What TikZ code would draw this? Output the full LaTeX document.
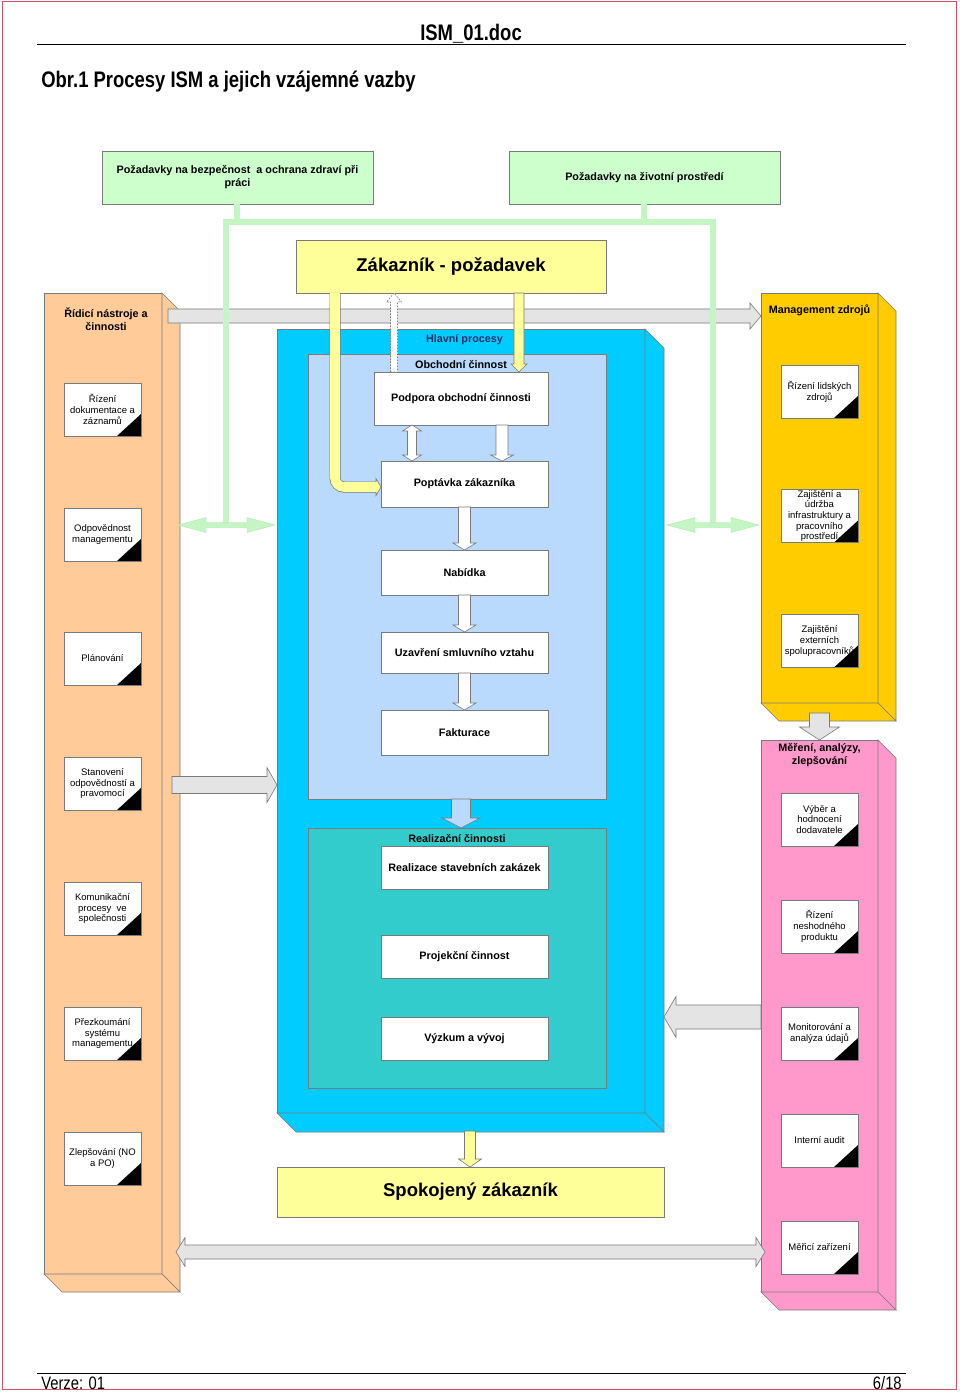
\documentclass[tikz,border=0pt]{standalone}
\usepackage{fontspec}
\setmainfont{Liberation Sans}
\newfontfamily\narrowfont[FakeStretch=0.82]{Liberation Sans}
\usetikzlibrary{calc}

\definecolor{orangec}{HTML}{FFCC99}
\definecolor{goldc}{HTML}{FFCC00}
\definecolor{pinkc}{HTML}{FF99CC}
\definecolor{bluec}{HTML}{00CCFF}
\definecolor{lbluec}{HTML}{B9DAFC}
\definecolor{tealc}{HTML}{33CCCC}
\definecolor{paleyc}{HTML}{FFFF99}
\definecolor{lgreenc}{HTML}{CCFFCC}
\definecolor{glinec}{HTML}{C4F6C4}
\definecolor{gedgec}{HTML}{A8E6A8}
\definecolor{edgec}{HTML}{7A7A7A}
\definecolor{arrgrayc}{HTML}{E4E4E4}
\definecolor{navyc}{HTML}{1C2E66}
\definecolor{borderredc}{HTML}{D85068}

% block arrows: [style]{start}{tip}{shaft half}{head half}{head length}
\newcommand{\blkdown}[6][]{%
  \path[#1] let \p1=(#2), \p2=(#3) in
    (\x1-#4,\y1) -- (\x1-#4,\y2+#6) -- (\x1-#5,\y2+#6) -- (\x1,\y2)
    -- (\x1+#5,\y2+#6) -- (\x1+#4,\y2+#6) -- (\x1+#4,\y1) -- cycle;}
\newcommand{\blkup}[6][]{%
  \path[#1] let \p1=(#2), \p2=(#3) in
    (\x1-#4,\y1) -- (\x1-#4,\y2-#6) -- (\x1-#5,\y2-#6) -- (\x1,\y2)
    -- (\x1+#5,\y2-#6) -- (\x1+#4,\y2-#6) -- (\x1+#4,\y1) -- cycle;}
\newcommand{\blkright}[6][]{%
  \path[#1] let \p1=(#2), \p2=(#3) in
    (\x1,\y1-#4) -- (\x2-#6,\y1-#4) -- (\x2-#6,\y1-#5) -- (\x2,\y1)
    -- (\x2-#6,\y1+#5) -- (\x2-#6,\y1+#4) -- (\x1,\y1+#4) -- cycle;}
\newcommand{\blkleft}[6][]{%
  \path[#1] let \p1=(#2), \p2=(#3) in
    (\x1,\y1-#4) -- (\x2+#6,\y1-#4) -- (\x2+#6,\y1-#5) -- (\x2,\y1)
    -- (\x2+#6,\y1+#5) -- (\x2+#6,\y1+#4) -- (\x1,\y1+#4) -- cycle;}
\newcommand{\blkdblH}[6][]{%
  \path[#1] let \p1=(#2), \p2=(#3) in
    (\x1,\y1) -- (\x1+#6,\y1+#5) -- (\x1+#6,\y1+#4) -- (\x2-#6,\y1+#4)
    -- (\x2-#6,\y1+#5) -- (\x2,\y1) -- (\x2-#6,\y1-#5) -- (\x2-#6,\y1-#4)
    -- (\x1+#6,\y1-#4) -- (\x1+#6,\y1-#5) -- cycle;}
\newcommand{\blkdblV}[6][]{%
  \path[#1] let \p1=(#2), \p2=(#3) in
    (\x1,\y1) -- (\x1+#5,\y1-#6) -- (\x1+#4,\y1-#6) -- (\x1+#4,\y2+#6)
    -- (\x1+#5,\y2+#6) -- (\x1,\y2) -- (\x1-#5,\y2+#6) -- (\x1-#4,\y2+#6)
    -- (\x1-#4,\y1-#6) -- (\x1-#5,\y1-#6) -- cycle;}
% side and bottom faces of a 3D box: {node}{colour}{depth}
\newcommand{\depthfaces}[3]{%
  \path[face, fill=#2] (#1.north east) -- ++(#3,#3) -- ($(#1.south east)+(#3,#3)$) -- (#1.south east) -- cycle;
  \path[face, fill=#2] (#1.south west) -- ($(#1.south west)+(#3,#3)$) -- ($(#1.south east)+(#3,#3)$) -- (#1.south east) -- cycle;}

\begin{document}
\begin{tikzpicture}[x=1pt,y=-1pt,
  every node/.style={outer sep=0pt},
  face/.style={draw=edgec, line width=0.6pt, line join=miter},
  panel/.style={draw=edgec, line width=0.6pt, anchor=north west, inner sep=0pt, align=center},
  lbl/.style={font=\fontsize{10.8}{13}\selectfont\bfseries, align=center, inner sep=0pt},
  bigfont/.style={font=\fontsize{18.5}{22}\selectfont\bfseries},
  procbox/.style={draw=edgec, fill=white, line width=0.6pt, minimum width=167pt, minimum height=43pt,
     font=\fontsize{10.8}{13}\selectfont\bfseries, inner sep=0pt},
  subbox/.style={draw=edgec, fill=white, line width=0.6pt, minimum width=77pt, minimum height=53pt,
     inner sep=0pt, align=center, font=\fontsize{9.5}{10.7}\selectfont,
     path picture={\fill[black] (path picture bounding box.south east) -- ++(-24pt,0pt) -- ++(24pt,22pt) -- cycle;}},
  blk/.style={draw=edgec, line width=0.6pt, line join=miter},
  grayarr/.style={blk, fill=arrgrayc},
  whitearr/.style={blk, fill=white},
  yelarr/.style={blk, fill=paleyc},
  garr/.style={fill=glinec, draw=gedgec, line width=0.3pt},
  gline/.style={draw=glinec, line width=5.5pt, line join=miter},
  hdrfont/.style={font=\narrowfont\fontsize{22.5}{26}\selectfont\bfseries},
  ftrfont/.style={font=\narrowfont\fontsize{18}{20}\selectfont}
]
\useasboundingbox (0,0) rectangle (960,1396);
\fill[white] (0,0) rectangle (960,1396);

% ---------- header / footer ----------
\draw[line width=0.9pt] (37,44) -- (906,44);
\node[anchor=base, hdrfont] (docname) at (471,41) {ISM\_01.doc};
\node[anchor=base west, hdrfont] (figtitle) at (38,88) {Obr.1 Procesy ISM a jejich vzájemné vazby};
\draw[line width=0.9pt] (37,1373) -- (906,1373);
\node[anchor=base west, ftrfont] (version) at (38,1389) {Verze: 01};
\node[anchor=base east, ftrfont] (pageno) at (905,1389) {6/18};

% ---------- top boxes ----------
\node[panel, lbl, fill=lgreenc, minimum width=271pt, minimum height=53pt, anchor=north west] (bozp) at (102,151)
  {Požadavky na bezpečnost\ \ a ochrana zdraví při\\práci};
\node[panel, lbl, fill=lgreenc, minimum width=271pt, minimum height=53pt, anchor=north west] (zp) at (509,151)
  {Požadavky na životní prostředí};
\node[panel, bigfont, fill=paleyc, minimum width=310pt, minimum height=53pt] (zakaznik) at (296,240)
  {Zákazník - požadavek};

% ---------- 3D columns ----------
\node[panel, fill=orangec, minimum width=118pt, minimum height=981pt] (ridici) at (44,293) {};
\depthfaces{ridici}{orangec}{18}
\node[panel, fill=goldc, minimum width=117pt, minimum height=410pt] (mgmt) at (761,293) {};
\depthfaces{mgmt}{goldc}{18}
\node[panel, fill=pinkc, minimum width=117pt, minimum height=552pt] (mereni) at (761,740) {};
\depthfaces{mereni}{pinkc}{18}
\node[panel, fill=bluec, minimum width=368pt, minimum height=784pt] (hlavni) at (277,329) {};
\depthfaces{hlavni}{bluec}{19}
\node[panel, fill=lbluec, minimum width=298pt, minimum height=445pt] (obchodni) at (308,354) {};
\node[panel, fill=tealc, minimum width=298pt, minimum height=260pt] (realizacni) at (308,828) {};

% titles
\node[lbl] (ridicititle) at (106,319.5) {Řídicí nástroje a\\činnosti};
\node[lbl] (mgmttitle) at (819.5,310.5) {Management zdrojů};
\node[lbl] (merenititle) at (819.5,755.5) {Měření, analýzy,\\zlepšování};
\node[lbl, text=navyc] (hlavnititle) at (464.5,339.5) {Hlavní procesy};
\node[lbl] (obchodnititle) at (461,364.5) {Obchodní činnost};
\node[lbl] (realizacnititle) at (457,838.5) {Realizační činnosti};

% ---------- sub boxes ----------
\node[subbox] (l1) at (102.5,409.5) {Řízení\\dokumentace a\\záznamů};
\node[subbox] (l2) at (102.5,534.5) {Odpovědnost\\managementu};
\node[subbox] (l3) at (102.5,658.5) {Plánování};
\node[subbox] (l4) at (102.5,783.5) {Stanovení\\odpovědností a\\pravomocí};
\node[subbox] (l5) at (102.5,908.5) {Komunikační\\procesy\ \ ve\\společnosti};
\node[subbox] (l6) at (102.5,1033.5) {Přezkoumání\\systému\\managementu};
\node[subbox] (l7) at (102.5,1158.5) {Zlepšování (NO\\a PO)};

\node[subbox] (r1) at (819.5,391.5) {Řízení lidských\\zdrojů};
\node[subbox] (r2) at (819.5,516) {Zajištění a\\údržba\\infrastruktury a\\pracovního\\prostředí};
\node[subbox] (r3) at (819.5,641) {Zajištění\\externích\\spolupracovníků};

\node[subbox] (p1) at (819.5,819.5) {Výběr a\\hodnocení\\dodavatele};
\node[subbox] (p2) at (819.5,926.5) {Řízení\\neshodného\\produktu};
\node[subbox] (p3) at (819.5,1033.5) {Monitorování a\\analýza údajů};
\node[subbox] (p4) at (819.5,1140.5) {Interní audit};
\node[subbox] (p5) at (819.5,1247.5) {Měřicí zařízení};

% ---------- process boxes ----------
\node[procbox, minimum width=174pt, minimum height=53pt] (podpora) at (461,398.5) {Podpora obchodní činnosti};
\node[procbox, minimum height=46pt] (poptavka) at (464.5,484) {Poptávka zákazníka};
\node[procbox, minimum height=45pt] (nabidka) at (464.5,572.5) {Nabídka};
\node[procbox, minimum height=41pt] (uzavreni) at (464.5,652.5) {Uzavření smluvního vztahu};
\node[procbox, minimum height=45pt] (fakturace) at (464.5,732.5) {Fakturace};
\node[procbox] (realizace) at (464.5,867.5) {Realizace stavebních zakázek};
\node[procbox] (projekcni) at (464.5,956.5) {Projekční činnost};
\node[procbox] (vyzkum) at (464.5,1038.5) {Výzkum a vývoj};

\node[panel, bigfont, fill=paleyc, minimum width=387pt, minimum height=50pt] (spokojeny) at (277,1167) {Spokojený zákazník};

% ---------- arrows between process boxes ----------
\coordinate (dblA) at ($(podpora.south west)+(38,0)$);
\coordinate (dblB) at (dblA |- poptavka.north);
\blkdblV[whitearr]{dblA}{dblB}{4.5pt}{9.5pt}{6pt}
\coordinate (dnA) at ($(podpora.south west)+(128,0)$);
\blkdown[whitearr]{dnA}{dnA |- poptavka.north}{6pt}{11.5pt}{6pt}
\blkdown[whitearr]{poptavka.south}{nabidka.north}{6pt}{11.5pt}{7pt}
\blkdown[whitearr]{nabidka.south}{uzavreni.north}{6pt}{11.5pt}{7pt}
\blkdown[whitearr]{uzavreni.south}{fakturace.north}{6pt}{11.5pt}{7pt}
\blkdown[blk, fill=lbluec]{$(obchodni.south)+(4,0)$}{realizacni.north}{9.5pt}{19pt}{10pt}
\blkdown[yelarr]{$(hlavni.south west)+(193,18)$}{spokojeny.north}{5.5pt}{11.5pt}{8pt}

% ---------- grey arrows ----------
\blkright[grayarr]{$(ridici.north east)+(6,23)$}{mgmt.west}{7pt}{13pt}{11pt}
\blkright[grayarr]{$(l4.east)+(31,1.5)$}{hlavni.west}{8.5pt}{17.5pt}{10pt}
\blkleft[grayarr]{$(mereni.north west)+(0,277)$}{$(hlavni.east)+(19,0)$}{12pt}{20.5pt}{12pt}
\blkdown[grayarr]{$(mgmt.south)+(0,10)$}{mereni.north}{10pt}{20pt}{13pt}
\coordinate (botL) at ($(ridici.south east)+(14,-22)$);
\coordinate (botR) at ($(mereni.south west)+(4,0)$);
\blkdblH[grayarr]{botL}{botR}{7pt}{14.5pt}{9pt}

% ---------- green connectors ----------
\coordinate (gTL) at (226,222);
\coordinate (gTR) at (713,222);
\coordinate (gBL) at (226,525);
\coordinate (gBR) at (713,525);
\draw[gline] ($(bozp.south west)+(135,0)$) -- ($(bozp.south west)+(135,21)$);
\draw[gline] ($(zp.south west)+(135,0)$) -- ($(zp.south west)+(135,21)$);
\draw[gline] (gBL) -- (gTL) -- (gTR) -- (gBR);
\coordinate (gl1) at ($(ridici.east |- gBL)+(16,0)$);
\coordinate (gl2) at ($(hlavni.west |- gBL)+(-2,0)$);
\blkdblH[garr]{gl1}{gl2}{2.5pt}{7.5pt}{28pt}
\coordinate (gr1) at ($(hlavni.east |- gBR)+(22,0)$);
\coordinate (gr2) at ($(mgmt.west |- gBR)+(-2,0)$);
\blkdblH[garr]{gr1}{gr2}{2.5pt}{7.5pt}{28pt}

% ---------- yellow arrows from the customer ----------
\coordinate (yA) at ($(zakaznik.south west)+(39,0)$);
\coordinate (yT) at ($(poptavka.west)+(0,3)$);
\coordinate (yB) at ($(yT)+(-5,0)$);
\draw[draw=edgec, line width=11pt, rounded corners=9pt] (yA) |- (yB);
\path[yelarr] ($(yB)+(0,-8.5)$) -- (yT) -- ($(yB)+(0,8.5)$) -- cycle;
\draw[draw=paleyc, line width=9.6pt, rounded corners=9pt] (yA) |- ($(yB)+(1.5,0)$);
\coordinate (yC) at ($(zakaznik.south west)+(223,0)$);
\blkdown[yelarr]{yC}{yC |- podpora.north}{5pt}{8pt}{8pt}

% dashed return arrow
\coordinate (dA) at ($(podpora.north west)+(20,0)$);
\coordinate (dB) at (dA |- zakaznik.south);
\blkup[blk, fill=white, dash pattern=on 1.6pt off 1.4pt]{dA}{dB}{3.5pt}{7.5pt}{9pt}

% page border
\draw[borderredc, line width=1pt] (2,2) rectangle (956,1389.5);
\end{tikzpicture}
\end{document}
